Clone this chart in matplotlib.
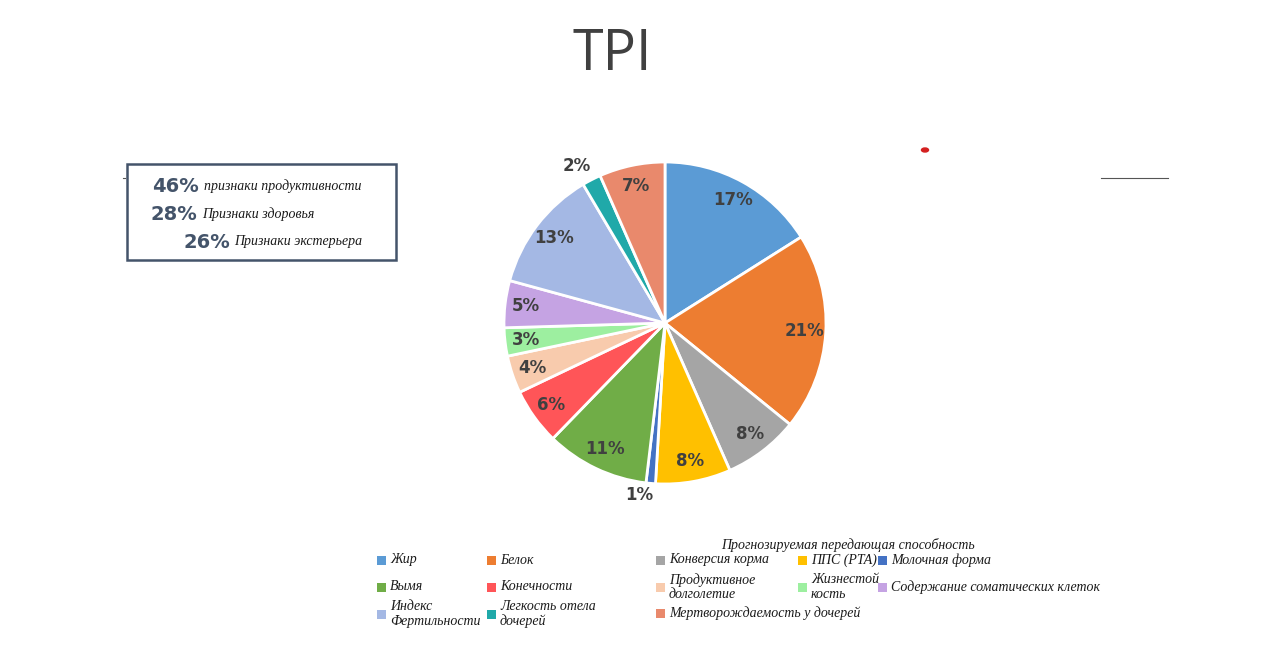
import matplotlib
matplotlib.use("Agg")
import matplotlib.pyplot as plt
from matplotlib.patches import Rectangle, Ellipse
import numpy as np

# ---- data ----
categories = ["Жир", "Белок", "Конверсия корма", "ППС (РТА)", "Молочная форма",
              "Вымя", "Конечности", "Продуктивное\nдолголетие", "Жизнестой\nкость",
              "Содержание соматических клеток", "Индекс\nФертильности",
              "Легкость отела\nдочерей", "Мертворождаемость у дочерей"]
values = [17, 21, 8, 8, 1, 11, 6, 4, 3, 5, 13, 2, 7]
colors = ["#5B9BD5", "#ED7D31", "#A5A5A5", "#FFC000", "#4472C4",
          "#70AD47", "#FF5558", "#F8CBAD", "#9DEFA0", "#C5A3E3",
          "#A4B8E4", "#20A9A9", "#E9896C"]
summary_pct = ["46%", "28%", "26%"]
summary_txt = ["признаки продуктивности", "Признаки здоровья", "Признаки экстерьера"]
legend_title = "Прогнозируемая передающая способность"
title = "TPI"

W, H = 1271, 656
fig = plt.figure(figsize=(W / 100, H / 100), dpi=100)
fig.patch.set_facecolor("white")

# overlay axes in pixel coordinates
ov = fig.add_axes([0, 0, 1, 1])
ov.set_xlim(0, W)
ov.set_ylim(H, 0)
ov.axis("off")

# ---- pie ----
cx, cy, r = 665, 323, 161
ax = fig.add_axes([(cx - r) / W, (H - cy - r) / H, 2 * r / W, 2 * r / H])
wedges, _ = ax.pie(values, colors=colors, startangle=90, counterclock=False,
                   wedgeprops=dict(edgecolor="white", linewidth=2))
ax.set_xlim(-1, 1)
ax.set_ylim(-1, 1)
ax.set_aspect("equal")
ax.axis("off")

for w, v in zip(wedges, values):
    mid = (w.theta1 + w.theta2) / 2
    d = 0.87
    if v <= 1:
        d = 1.08
        mid -= 3.5
    elif v == 2:
        d = 1.12
        mid += 2
    ang = np.deg2rad(mid)
    ax.text(d * np.cos(ang), d * np.sin(ang), f"{v}%", ha="center", va="center",
            fontsize=12, fontweight="bold", color="#404040", family="DejaVu Sans")

# ---- title ----
ov.text(612, 55, title, ha="center", va="center", fontsize=40, color="#404040",
        family="Open Sans")

# ---- summary box ----
ov.add_patch(Rectangle((127, 164), 269, 96, fill=False, edgecolor="#44546A", linewidth=1.8))
pct_x = [199, 197, 230]
txt_x = [204, 202, 234]
rows_y = [186, 214, 242]
for px, tx, yy, p, t in zip(pct_x, txt_x, rows_y, summary_pct, summary_txt):
    ov.text(px, yy, p, ha="right", va="center", fontsize=14, fontweight="bold",
            color="#44546A", family="DejaVu Sans")
    ov.text(tx, yy, t, ha="left", va="center", fontsize=10, style="italic",
            color="#1a1a1a", family="Liberation Serif")

# ---- legend ----
ov.text(848, 545, legend_title, ha="center", va="center", fontsize=10, style="italic",
        color="#1a1a1a", family="Liberation Serif")
leg_pos = [(381, 560), (491, 560), (660, 560), (802, 560), (882, 560),
           (381, 587), (491, 587), (660, 587), (802, 587), (882, 587),
           (381, 614), (491, 614), (660, 613)]
for (lx, ly), lab, c in zip(leg_pos, categories, colors):
    ov.add_patch(Rectangle((lx - 4.5, ly - 4.5), 9, 9, facecolor=c, edgecolor="none"))
    ov.text(lx + 9, ly, lab, ha="left", va="center", fontsize=10, style="italic",
            color="#1a1a1a", family="Liberation Serif", linespacing=1.15)

# small decorations present in the reference
ov.plot([1101, 1168], [178, 178], color="#555555", linewidth=0.8)
ov.plot([123, 125], [178, 178], color="#555555", linewidth=0.8)
ov.add_patch(Ellipse((925, 150), 7, 4, color="#d42020"))

fig.savefig("out.png", dpi=100, facecolor="white")
